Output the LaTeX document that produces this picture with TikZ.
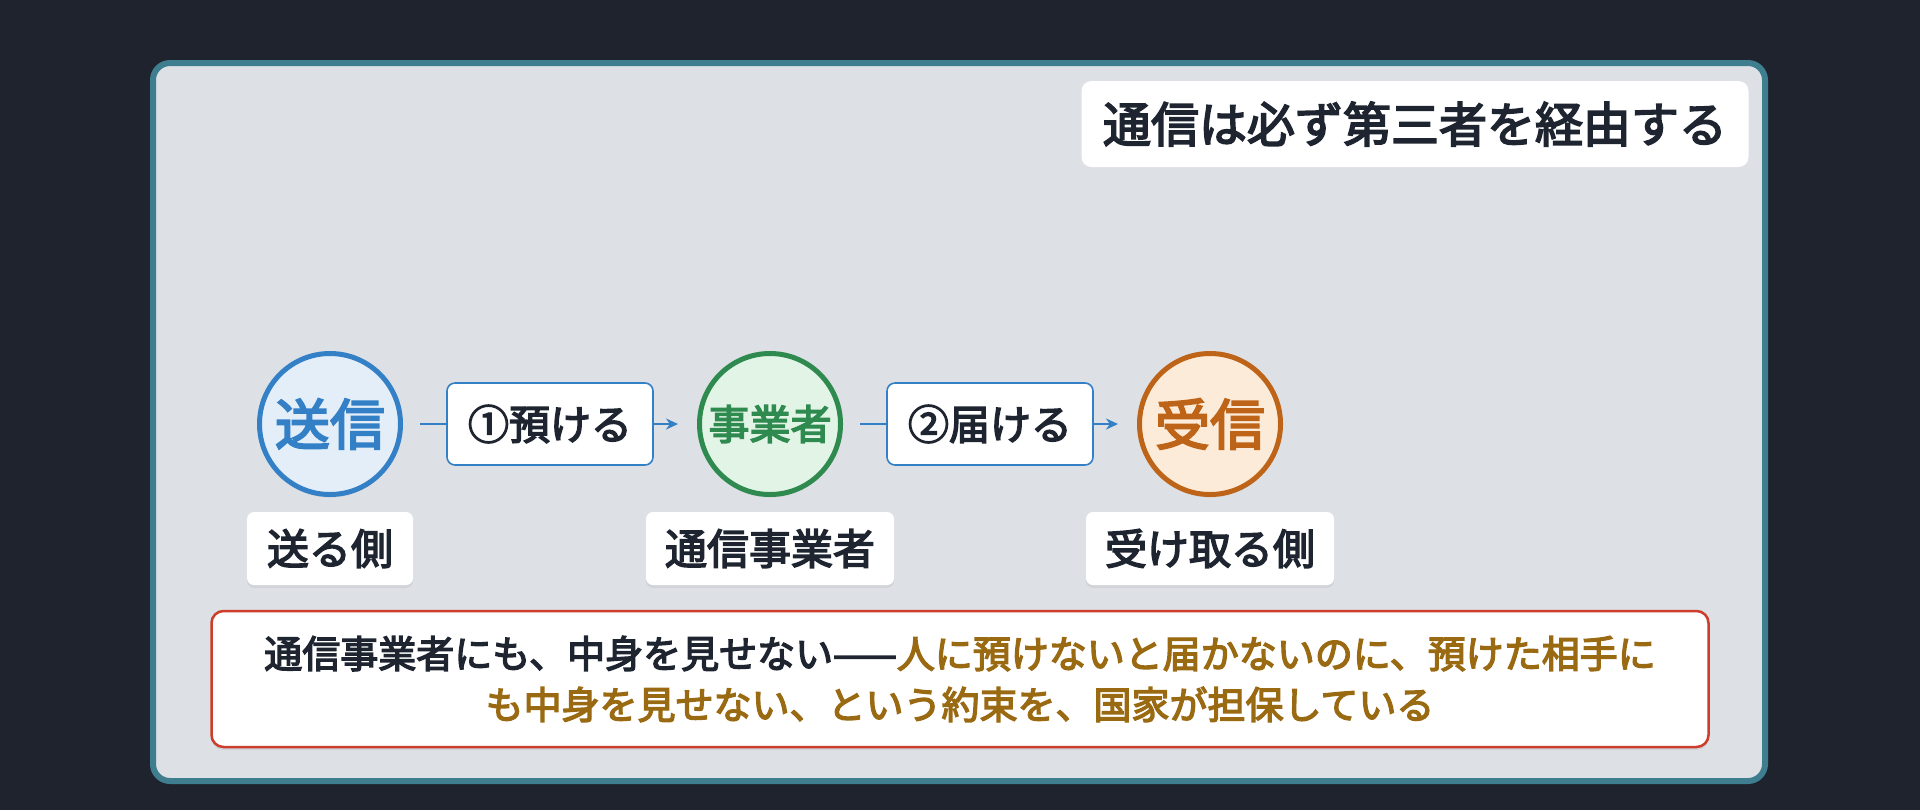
\documentclass[tikz,border=0pt]{standalone}
\usepackage{fontspec}
\setmainfont{Noto Sans CJK JP}[AutoFakeBold=3.5]
\usetikzlibrary{arrows.meta,shadows}
\definecolor{bgdark}{HTML}{1E232D}
\definecolor{panelfill}{HTML}{DDE0E5}
\definecolor{panelline}{HTML}{3E7E8E}
\definecolor{blueC}{HTML}{3380C6}
\definecolor{blueF}{HTML}{E3EEF9}
\definecolor{greenC}{HTML}{2E8A4E}
\definecolor{greenF}{HTML}{E2F4E6}
\definecolor{orangeC}{HTML}{BE6418}
\definecolor{orangeF}{HTML}{FDEBD9}
\definecolor{darktext}{HTML}{1F2530}
\definecolor{goldtext}{HTML}{9A6A12}
\definecolor{redline}{HTML}{CC3D2B}
\begin{document}
\begin{tikzpicture}[x=0.5pt,y=-0.5pt,
  every node/.style={text=darktext},
  circ/.style={circle,line width=2.5pt,minimum size=70.5pt,inner sep=0pt,
    drop shadow={opacity=0.12,shadow xshift=0pt,shadow yshift=-1.5pt}},
  stepbox/.style={draw=blueC,fill=white,line width=0.8pt,rounded corners=4pt,
    minimum width=103pt,minimum height=41pt,inner sep=0pt,
    font=\fontsize{20.5}{24}\selectfont},
  lblbox/.style={fill=white,rounded corners=3.5pt,minimum height=36.5pt,inner sep=0pt,
    font=\fontsize{21}{24}\selectfont,
    drop shadow={opacity=0.12,shadow xshift=0pt,shadow yshift=-1.5pt}},
  conn/.style={draw=blueC,line width=1.4pt},
  tip/.style={-{Stealth[length=6pt,width=5.5pt]}}
]
\fill[bgdark] (0,0) rectangle (1920,810);
\useasboundingbox (0,0) rectangle (1920,810);
\draw[line width=3pt,draw=panelline,fill=panelfill,rounded corners=8.5pt]
  (153,63) rectangle (1765,781);

% title
\node[fill=white,rounded corners=5pt,minimum width=333.5pt,minimum height=43pt,
  inner sep=0pt,font=\fontsize{24}{28}\selectfont\bfseries] (title) at (1415,124)
  {通信は必ず第三者を経由する};

% circles
\node[circ,draw=blueC,fill=blueF] (send) at (330,424)
  {\fontsize{27.5}{30}\selectfont\bfseries\color{blueC}送信};
\node[circ,draw=greenC,fill=greenF] (carrier) at (770,424)
  {\fontsize{20.5}{24}\selectfont\bfseries\color{greenC}事業者};
\node[circ,draw=orangeC,fill=orangeF] (recv) at (1210,424)
  {\fontsize{27.5}{30}\selectfont\bfseries\color{orangeC}受信};

% step boxes
\node[stepbox,font=\fontsize{20.5}{24}\selectfont\bfseries] (s1) at (550,424) {①預ける};
\node[stepbox,font=\fontsize{20.5}{24}\selectfont\bfseries] (s2) at (990,424) {②届ける};

% connectors
\draw[conn,shorten <=8.5pt] (send) -- (s1);
\draw[conn,tip,shorten >=9.5pt] (s1) -- (carrier);
\draw[conn,shorten <=8.5pt] (carrier) -- (s2);
\draw[conn,tip,shorten >=9.5pt] (s2) -- (recv);

% labels below
\node[lblbox,minimum width=83pt,font=\fontsize{21}{24}\selectfont\bfseries] (l1) at (330,548.5) {送る側};
\node[lblbox,minimum width=124pt,font=\fontsize{21}{24}\selectfont\bfseries] (l2) at (770,548.5) {通信事業者};
\node[lblbox,minimum width=124pt,font=\fontsize{21}{24}\selectfont\bfseries] (l3) at (1210,548.5) {受け取る側};

% bottom note
\node[draw=redline,fill=white,line width=1.25pt,rounded corners=6pt,
  minimum width=748.5pt,minimum height=68pt,inner sep=0pt,align=center,
  font=\fontsize{19}{25.5}\selectfont\bfseries,
  drop shadow={opacity=0.12,shadow xshift=0pt,shadow yshift=-1.5pt}] (note) at (960,679)
  {通信事業者にも、中身を見せない——\textcolor{goldtext}{人に預けないと届かないのに、預けた相手に}\\
   \textcolor{goldtext}{も中身を見せない、という約束を、国家が担保している}};
\end{tikzpicture}
\end{document}
